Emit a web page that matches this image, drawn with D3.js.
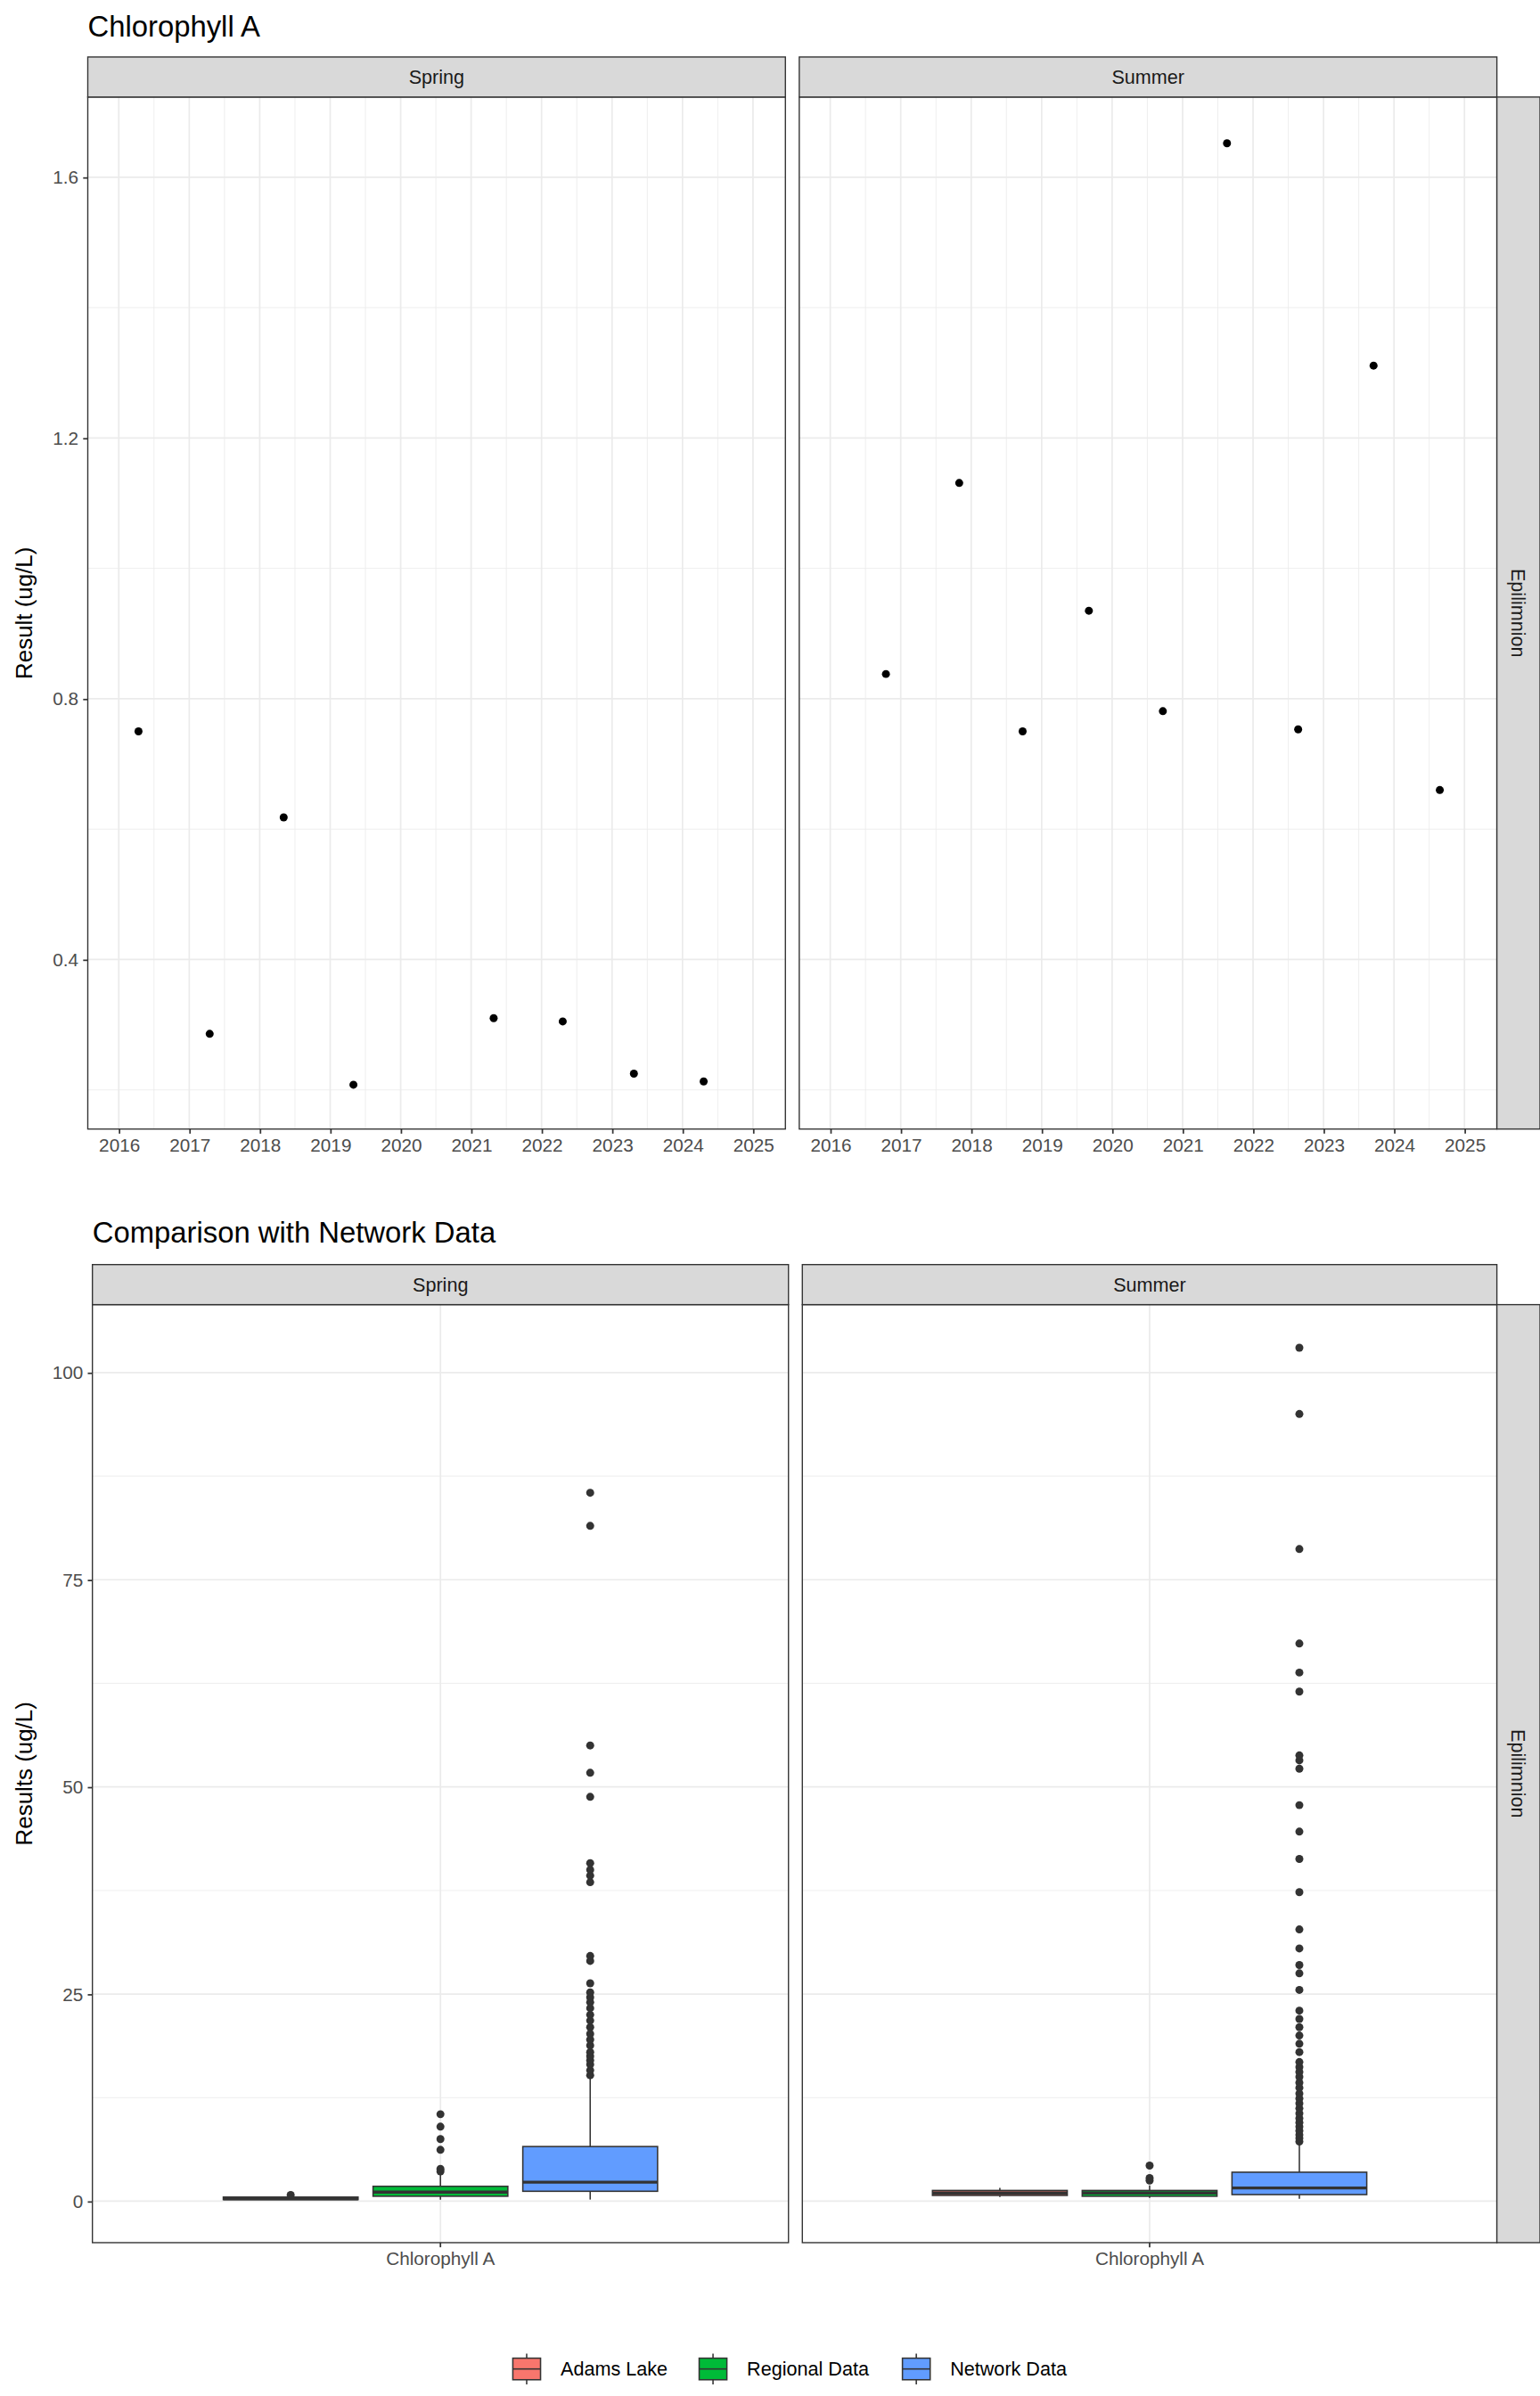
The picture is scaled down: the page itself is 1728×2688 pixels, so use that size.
<!DOCTYPE html>
<html><head><meta charset="utf-8">
<script src="https://cdn.jsdelivr.net/npm/d3@7"></script>
<style>body{margin:0;background:#fff}text{font-family:"Liberation Sans",Arial,sans-serif}</style>
</head><body><svg id="c"></svg>
<script>
const seasons=["Spring","Summer"];
const springYears=[2016.28,2017.29,2018.34,2019.33,2021.32,2022.30,2023.31,2024.30];
const springVals=[0.750,0.286,0.618,0.208,0.310,0.305,0.225,0.213];
const summerYears=[2016.79,2017.83,2018.73,2019.67,2020.72,2021.63,2022.64,2023.71,2024.65];
const summerVals=[0.838,1.131,0.750,0.935,0.781,1.652,0.753,1.311,0.660];
const yearTicks=[2016,2017,2018,2019,2020,2021,2022,2023,2024,2025];
const topYTicks=[0.4,0.8,1.2,1.6];
const groups=["Adams Lake","Regional Data","Network Data"];
const colors=["#F8766D","#00BA38","#619CFF"];
const botYTicks=[0,25,50,75,100];
// box stats: [lowWhisker,q1,median,q3,highWhisker]
const springBoxes=[[0.15,0.2,0.3,0.5,0.6],[0.2,0.6,1.1,1.8,3.4],[0.2,1.2,2.3,6.6,15]];
const summerBoxes=[[0.5,0.7,1.0,1.3,1.6],[0.4,0.6,1.0,1.3,1.9],[0.3,0.8,1.6,3.5,7]];
const springOut=[[0.75],[3.6,3.9,6.2,7.5,9,10.5],[15.2,15.8,16.5,17,17.5,18,18.8,19.5,20.2,21,21.8,22.5,23.3,24,24.6,25.2,26.3,29,29.6,38.5,39.3,40,40.8,48.8,51.7,55,81.5,85.5]];
const summerOut=[[],[2.5,2.8,4.3],[7.2,7.6,8,8.5,9,9.5,10,10.6,11.2,11.8,12.4,13,13.7,14.3,15,15.6,16.2,16.8,18,19,20,21,22,23,25.5,27.5,28.5,30.5,32.8,37.3,41.3,44.6,47.8,52.2,53.2,53.8,61.5,63.8,67.3,78.7,95,103]];

const W=1000,H=2688/1.728;
const svg=d3.select("#c").attr("width",1728).attr("height",2688).attr("viewBox",`0 0 ${W} ${H}`);
const grid="#EBEBEB",dark="#333333",axcol="#4D4D4D";

function strip(x,y,w,h,label,vert){
  svg.append("rect").attr("x",x).attr("y",y).attr("width",w).attr("height",h).attr("fill","#D9D9D9").attr("stroke",dark).attr("stroke-width",0.8);
  const t=svg.append("text").attr("font-size",12.5).attr("fill","#1A1A1A").attr("text-anchor","middle").attr("dominant-baseline","central").text(label);
  if(vert) t.attr("transform",`translate(${x+w/2},${y+h/2}) rotate(90)`); else t.attr("x",x+w/2).attr("y",y+h/2);
}

// ---------- top
svg.append("text").attr("x",57).attr("y",24).attr("font-size",19).text("Chlorophyll A");
const tT=63,tB=733;
const yT=d3.scaleLinear().domain([0.14,1.723]).range([tB,tT]);
const panelsT=[[57,510],[519,972]];
const topData=[[springYears,springVals],[summerYears,summerVals]];
panelsT.forEach(([x0,x1],i)=>{
  const x=d3.scaleLinear().domain([2015.56,2025.46]).range([x0,x1]);
  const g=svg.append("g");
  g.append("rect").attr("x",x0).attr("y",tT).attr("width",x1-x0).attr("height",tB-tT).attr("fill","#fff");
  [0.2,0.6,1.0,1.4].forEach(v=>g.append("line").attr("x1",x0).attr("x2",x1).attr("y1",yT(v)).attr("y2",yT(v)).attr("stroke",grid).attr("stroke-width",0.5));
  yearTicks.slice(0,-1).forEach(v=>g.append("line").attr("y1",tT).attr("y2",tB).attr("x1",x(v+0.5)).attr("x2",x(v+0.5)).attr("stroke",grid).attr("stroke-width",0.5));
  topYTicks.forEach(v=>g.append("line").attr("x1",x0).attr("x2",x1).attr("y1",yT(v)).attr("y2",yT(v)).attr("stroke",grid).attr("stroke-width",1));
  yearTicks.forEach(v=>g.append("line").attr("y1",tT).attr("y2",tB).attr("x1",x(v)).attr("x2",x(v)).attr("stroke",grid).attr("stroke-width",1));
  const [xs,vs]=topData[i];
  xs.forEach((xx,j)=>g.append("circle").attr("cx",x(xx)).attr("cy",yT(vs[j])).attr("r",2.6).attr("fill","#000"));
  g.append("rect").attr("x",x0).attr("y",tT).attr("width",x1-x0).attr("height",tB-tT).attr("fill","none").attr("stroke",dark).attr("stroke-width",0.8);
  const ax=svg.append("g").attr("transform",`translate(0,${tB})`).call(d3.axisBottom(x).tickValues(yearTicks).tickFormat(d3.format("d")).tickSize(3).tickPadding(3));
  ax.select(".domain").remove(); ax.selectAll("line").attr("stroke",dark); ax.selectAll("text").attr("font-size",12).attr("fill",axcol).attr("font-family","Liberation Sans");
  strip(x0,37,x1-x0,26,seasons[i],false);
  if(i==0){const a=svg.append("g").attr("transform",`translate(${x0},0)`).call(d3.axisLeft(yT).tickValues(topYTicks).tickFormat(d3.format(".1f")).tickSize(3).tickPadding(3));
    a.select(".domain").remove();a.selectAll("line").attr("stroke",dark);a.selectAll("text").attr("font-size",12).attr("fill",axcol).attr("font-family","Liberation Sans");}
});
strip(972,tT,28,tB-tT,"Epilimnion",true);
svg.append("text").attr("transform",`translate(21,${(tT+tB)/2}) rotate(-90)`).attr("text-anchor","middle").attr("font-size",15).text("Result (ug/L)");

// ---------- bottom
svg.append("text").attr("x",60).attr("y",807).attr("font-size",19).text("Comparison with Network Data");
const bT=847,bB=1456;
const yB=d3.scaleLinear().domain([-5.0,108.2]).range([bB,bT]);
const panelsB=[[60,512],[521,972]];
const boxes=[springBoxes,summerBoxes],outs=[springOut,summerOut];
panelsB.forEach(([x0,x1],i)=>{
  const x=d3.scaleBand().domain(["Chlorophyll A"]).range([x0,x1]).padding(0.4); // band width 0.6 of width? adjust
  const xc=x("Chlorophyll A")+x.bandwidth()/2;
  const bx=d3.scaleBand().domain(groups).range([xc-141,xc+141]).paddingInner(0.1).paddingOuter(0);
  const g=svg.append("g");
  g.append("rect").attr("x",x0).attr("y",bT).attr("width",x1-x0).attr("height",bB-bT).attr("fill","#fff");
  [12.5,37.5,62.5,87.5].forEach(v=>g.append("line").attr("x1",x0).attr("x2",x1).attr("y1",yB(v)).attr("y2",yB(v)).attr("stroke",grid).attr("stroke-width",0.5));
  botYTicks.forEach(v=>g.append("line").attr("x1",x0).attr("x2",x1).attr("y1",yB(v)).attr("y2",yB(v)).attr("stroke",grid).attr("stroke-width",1));
  g.append("line").attr("x1",xc).attr("x2",xc).attr("y1",bT).attr("y2",bB).attr("stroke",grid).attr("stroke-width",1);
  groups.forEach((gr,k)=>{
    const s=boxes[i][k],l=bx(gr),w=bx.bandwidth(),c=l+w/2;
    g.append("line").attr("x1",c).attr("x2",c).attr("y1",yB(s[0])).attr("y2",yB(s[4])).attr("stroke",dark).attr("stroke-width",0.9);
    g.append("rect").attr("x",l).attr("width",w).attr("y",yB(s[3])).attr("height",Math.max(1,yB(s[1])-yB(s[3]))).attr("fill",colors[k]).attr("stroke",dark).attr("stroke-width",0.9);
    g.append("line").attr("x1",l).attr("x2",l+w).attr("y1",yB(s[2])).attr("y2",yB(s[2])).attr("stroke",dark).attr("stroke-width",2);
    outs[i][k].forEach(v=>g.append("circle").attr("cx",c).attr("cy",yB(v)).attr("r",2.6).attr("fill",dark));
  });
  g.append("rect").attr("x",x0).attr("y",bT).attr("width",x1-x0).attr("height",bB-bT).attr("fill","none").attr("stroke",dark).attr("stroke-width",0.8);
  const ax=svg.append("g").attr("transform",`translate(0,${bB})`).call(d3.axisBottom(x).tickSize(3).tickPadding(3));
  ax.select(".domain").remove(); ax.selectAll("line").attr("stroke",dark); ax.selectAll("text").attr("font-size",12).attr("fill",axcol).attr("font-family","Liberation Sans");
  strip(x0,821,x1-x0,26,seasons[i],false);
  if(i==0){const a=svg.append("g").attr("transform",`translate(${x0},0)`).call(d3.axisLeft(yB).tickValues(botYTicks).tickSize(3).tickPadding(3));
    a.select(".domain").remove();a.selectAll("line").attr("stroke",dark);a.selectAll("text").attr("font-size",12).attr("fill",axcol).attr("font-family","Liberation Sans");}
});
strip(972,bT,28,bB-bT,"Epilimnion",true);
svg.append("text").attr("transform",`translate(21,${(bT+bB)/2}) rotate(-90)`).attr("text-anchor","middle").attr("font-size",15).text("Results (ug/L)");

// legend
const legX=[333,454,586];
groups.forEach((gr,k)=>{
  const lg=svg.append("g").attr("transform",`translate(${legX[k]},1538)`);
  lg.append("line").attr("x1",9).attr("x2",9).attr("y1",-10).attr("y2",10).attr("stroke",dark).attr("stroke-width",0.9);
  lg.append("rect").attr("x",0).attr("y",-7).attr("width",18).attr("height",14).attr("fill",colors[k]).attr("stroke",dark).attr("stroke-width",0.9);
  lg.append("line").attr("x1",0).attr("x2",18).attr("y1",0).attr("y2",0).attr("stroke",dark).attr("stroke-width",0.9);
  lg.append("text").attr("x",31).attr("y",0).attr("dominant-baseline","central").attr("font-size",12.5).text(gr);
});
</script></body></html>
